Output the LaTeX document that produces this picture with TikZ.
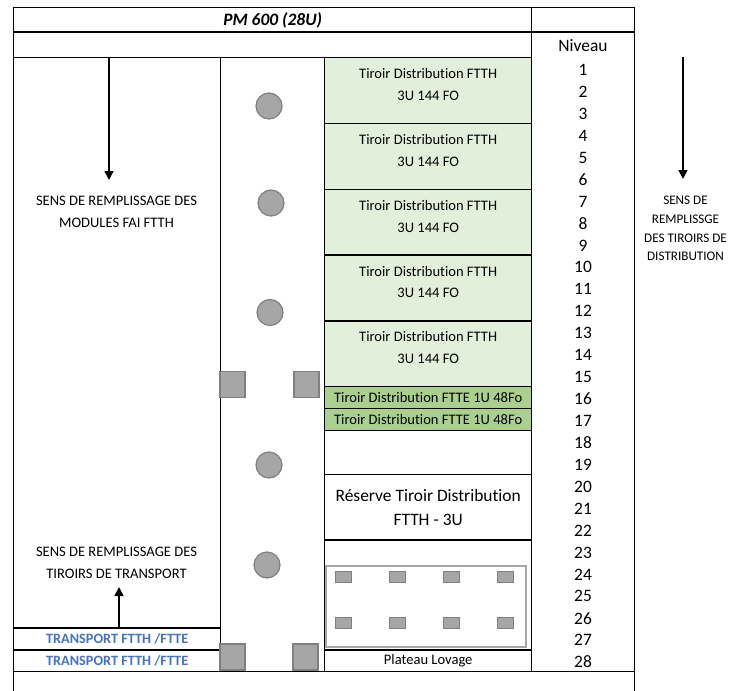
\documentclass[tikz,border=0pt]{standalone}
\usepackage{fontspec}
\setmainfont{Carlito}[Ligatures=NoCommon]
\usepackage{tikz}
\usetikzlibrary{arrows.meta,positioning,calc}
\usepackage{xcolor}
\definecolor{lightgreen}{RGB}{226,239,218}
\definecolor{midgreen}{RGB}{169,208,142}
\definecolor{linkblue}{RGB}{68,114,196}
\definecolor{partgray}{RGB}{166,166,166}
\definecolor{edgegray}{RGB}{128,128,128}
\def\uh{21.93}

\begin{document}
\begin{tikzpicture}[x=1bp,y=-1bp,
    cell/.style={draw,line width=1.4bp,anchor=north west,inner sep=0pt,minimum width=#1},
    bigtxt/.style={font=\fontsize{17.5}{24}\selectfont},
    smalltxt/.style={font=\fontsize{14.6}{22}\selectfont},
    tinytxt/.style={font=\fontsize{13.2}{18.7}\selectfont},
    transp/.style={font=\fontsize{14.3}{18}\selectfont\bfseries,text=linkblue},
    hole/.style={circle,fill=partgray,draw=edgegray,line width=1.2bp,minimum size=26bp,inner sep=0pt},
    screw/.style={rectangle,fill=partgray,draw=edgegray,line width=1.2bp,minimum width=25bp,minimum height=26bp,inner sep=0pt},
    peg/.style={rectangle,fill=partgray,draw=edgegray,line width=1bp,minimum width=16bp,minimum height=11bp,inner sep=0pt},
    arr/.style={line width=1.5bp,-{Triangle[width=9bp,length=9bp]}}]
  \useasboundingbox (0,0) rectangle (733,691);

  % frame and columns
  \node[cell=518bp,minimum height=24.5bp,bigtxt] (title) at (13,7) {\textbf{\textit{PM 600 (28U)}}};
  \node[cell=103bp,minimum height=24.5bp] (titleR) at (531,7) {};
  \node[cell=518bp,minimum height=25.5bp] (row2) at (13,31.5) {};
  \node[cell=103bp,minimum height=639.54bp] (nivcol) at (531,31.5) {};
  \node[cell=207bp,minimum height=570.18bp] (modcol) at (13,57) {};
  \node[cell=207bp,minimum height=\uh bp,transp] (tr1) at (13,627.18) {TRANSPORT FTTH /FTTE};
  \node[cell=207bp,minimum height=\uh bp,transp] (tr2) at (13,649.11) {TRANSPORT FTTH /FTTE};
  \node[cell=104bp,minimum height=614.04bp] (midcol) at (220,57) {};
  \node[cell=621bp,minimum height=40bp] (foot) at (13,671.04) {};

  % tiroirs
  \foreach \k in {1,...,5}{
    \node[cell=207bp,minimum height=65.79bp,fill=lightgreen] (td\k) at (324,{57+65.79*(\k-1)}) {};
    \node[smalltxt,align=center] (tdl\k) at ($(td\k.center)+(0,-6)$) {Tiroir Distribution FTTH\\3U 144 FO};
  }
  \node[cell=207bp,minimum height=\uh bp,fill=midgreen,smalltxt] (ftte1) at (324,385.95) {Tiroir Distribution FTTE 1U 48Fo};
  \node[cell=207bp,minimum height=\uh bp,fill=midgreen,smalltxt] (ftte2) at (324,407.88) {Tiroir Distribution FTTE 1U 48Fo};
  \node[cell=207bp,minimum height=43.86bp] (blank) at (324,429.81) {};
  \node[cell=207bp,minimum height=65.79bp,bigtxt,align=center] (reserve) at (324,473.67) {Réserve Tiroir Distribution\\FTTH - 3U};
  \node[cell=207bp,minimum height=109.65bp] (platcell) at (324,539.46) {};
  \node[cell=207bp,minimum height=\uh bp,smalltxt] (lovage) at (324,649.11) {Plateau Lovage};

  % plateau
  \node[draw=partgray,line width=1.4bp,minimum width=200bp,minimum height=81bp,inner sep=0pt] (plat) at (426,606.5) {};
  \foreach \i/\px in {1/343,2/397,3/451,4/505}{
    \node[peg] (pa\i) at (\px,577) {};
    \node[peg] (pb\i) at (\px,623) {};
  }

  % fixations
  \node[hole] (h1) at (269,106) {};
  \node[hole] (h2) at (271,203) {};
  \node[hole] (h3) at (270,312.5) {};
  \node[hole] (h4) at (269,465) {};
  \node[hole] (h5) at (267,565) {};
  \node[screw] (s1) at (232.5,384.5) {};
  \node[screw] (s2) at (306.5,384.5) {};
  \node[screw] (s3) at (232.5,657) {};
  \node[screw] (s4) at (305.5,657) {};

  % niveaux
  \node[bigtxt] (niveau) at (583,45.5) {Niveau};
  \foreach \n in {1,...,28}
    \node[bigtxt] (niv\n) at (583,{57+\uh*(\n-0.5)+2}) {\n};

  % sens de remplissage
  \node[smalltxt,align=center] (sensmod) at (116.5,212) {SENS DE REMPLISSAGE DES\\MODULES FAI FTTH};
  \node[smalltxt,align=center] (senstr) at (116.5,563) {SENS DE REMPLISSAGE DES\\TIROIRS DE TRANSPORT};
  \node[tinytxt,align=center] (sensdist) at (685.5,228.5) {SENS DE\\REMPLISSGE\\DES TIROIRS DE\\DISTRIBUTION};
  \coordinate (modtip) at (109,180);
  \coordinate (trtip) at (119,587);
  \coordinate (disttop) at (683,57);
  \coordinate (disttip) at (683,179);
  \draw[arr] (modtip |- modcol.north) -- (modtip);
  \draw[arr] (trtip |- tr1.north) -- (trtip);
  \draw[arr] (disttop) -- (disttip);
\end{tikzpicture}
\end{document}
